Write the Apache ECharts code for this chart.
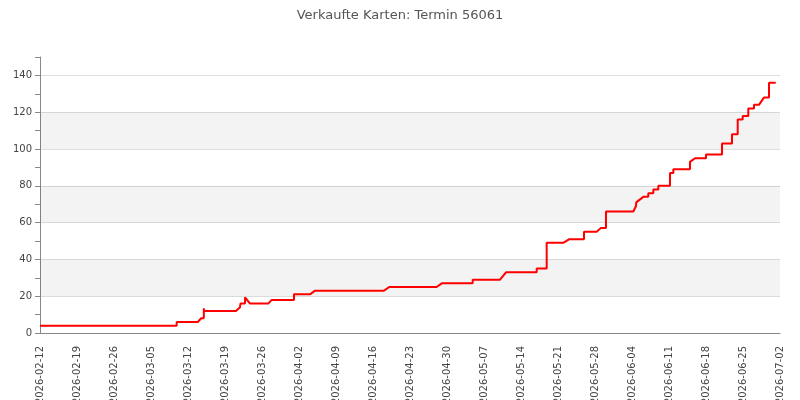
<!DOCTYPE html>
<html>
<head>
<meta charset="utf-8">
<script src="https://cdn.jsdelivr.net/npm/echarts@6/dist/echarts.min.js"></script>
<style>
  html, body { margin: 0; padding: 0; background: #fff; }
  #chart { width: 800px; height: 400px; }
</style>
</head>
<body>
<div id="chart"></div>
<script>
// sales points (time of sale, tickets sold so far)
var saleTimes = [
  '2026-02-12 00:00', '2026-03-09 20:38', '2026-03-09 20:38', '2026-03-13 20:24',
  '2026-03-14 12:00', '2026-03-14 23:45', '2026-03-15 00:00', '2026-03-15 01:12',
  '2026-03-21 01:55', '2026-03-21 20:10', '2026-03-21 22:05', '2026-03-22 18:43',
  '2026-03-22 19:12', '2026-03-23 17:31', '2026-03-27 04:34', '2026-03-27 19:55',
  '2026-04-01 01:12', '2026-04-01 01:12', '2026-04-04 01:55', '2026-04-05 00:43',
  '2026-04-18 01:55', '2026-04-19 01:55', '2026-04-28 01:12', '2026-04-29 00:00',
  '2026-05-04 20:38', '2026-05-04 20:38', '2026-05-10 00:43', '2026-05-11 03:50',
  '2026-05-16 23:17', '2026-05-16 23:17', '2026-05-18 20:38', '2026-05-18 20:38',
  '2026-05-22 00:00', '2026-05-23 03:22', '2026-05-25 22:05', '2026-05-25 22:05',
  '2026-05-28 07:41', '2026-05-29 01:55', '2026-05-30 01:55', '2026-05-30 01:55',
  '2026-06-04 06:00', '2026-06-04 18:14', '2026-06-04 19:12', '2026-06-06 03:22',
  '2026-06-07 01:55', '2026-06-07 01:55', '2026-06-08 00:43', '2026-06-08 00:43',
  '2026-06-08 23:31', '2026-06-08 23:31', '2026-06-11 04:34', '2026-06-11 04:34',
  '2026-06-11 19:41', '2026-06-11 19:41', '2026-06-14 23:17', '2026-06-14 23:17',
  '2026-06-15 22:05', '2026-06-18 00:00', '2026-06-18 00:00', '2026-06-21 00:43',
  '2026-06-21 00:43', '2026-06-22 22:05', '2026-06-22 22:05', '2026-06-24 00:00',
  '2026-06-24 00:00', '2026-06-24 22:34', '2026-06-24 22:34', '2026-06-26 00:00',
  '2026-06-26 00:00', '2026-06-27 01:55', '2026-06-27 01:55', '2026-06-28 00:29',
  '2026-06-28 12:00', '2026-06-28 23:17', '2026-06-29 22:05', '2026-06-29 22:05',
  '2026-07-01 04:34'
];
var soldTotal = [
  4, 4, 6, 6,
  8, 8, 13.4, 12,
  12, 14, 16, 16,
  19.4, 16, 16, 18,
  18, 21, 21, 23,
  23, 25, 25, 27,
  27, 29, 29, 33,
  33, 35, 35, 49,
  49, 51, 51, 55,
  55, 57, 57, 66,
  66, 69, 71, 74,
  74, 76, 76, 78,
  78, 80, 80, 87,
  87, 89, 89, 93,
  95, 95, 97, 97,
  103, 103, 108, 108,
  116, 116, 118, 118,
  122, 122, 124, 124,
  126, 128, 128, 136,
  136
];

var xStart = '2026-02-12';
var xEnd = '2026-07-02';
var DAY = 86400000;

// shaded horizontal bands behind the line
var bands = [[20, 40], [60, 80], [100, 120]];

function toMs(s){
  var p = s.split(/[- :]/).map(Number);
  return Date.UTC(p[0], p[1] - 1, p[2], p[3] || 0, p[4] || 0);
}

function fmtDate(ms){
  return new Date(ms).toISOString().slice(0, 10);
}

var points = saleTimes.map(function(t, i){
  return [toMs(t), soldTotal[i]];
});

var chart = echarts.init(document.getElementById('chart'), null, {renderer: 'canvas'});

chart.setOption({
  animation: false,
  backgroundColor: '#fff',
  title: {
    text: 'Verkaufte Karten: Termin 56061',
    left: 'center',
    top: 4,
    textStyle: {
      fontFamily: 'DejaVu Sans',
      fontSize: 13,
      fontWeight: 'normal',
      color: '#555'
    }
  },
  grid: {
    left: 40,
    right: 20,
    top: 57,
    bottom: 67,
    containLabel: false,
    outerBoundsMode: 'none'
  },
  xAxis: {
    type: 'value',
    min: toMs(xStart),
    max: toMs(xEnd),
    interval: 7 * DAY,
    axisLine: { lineStyle: { color: '#888' } },
    axisTick: { show: false },
    splitLine: { show: false },
    axisLabel: {
      rotate: 90,
      margin: 13,
      fontFamily: 'DejaVu Sans',
      fontSize: 10,
      color: '#444',
      hideOverlap: false,
      formatter: function(v){ return fmtDate(v); }
    }
  },
  yAxis: {
    type: 'value',
    min: 0,
    max: 150,
    interval: 10,
    axisLine: { show: true, lineStyle: { color: '#888' } },
    axisTick: { show: true, length: 5, lineStyle: { color: '#888' } },
    axisLabel: {
      margin: 8,
      fontFamily: 'DejaVu Sans',
      fontSize: 10,
      color: '#444',
      formatter: function(v){ return v % 20 === 0 ? v : ''; }
    },
    splitLine: {
      show: true,
      lineStyle: { color: ['#dedede', 'rgba(0,0,0,0)'], width: 1 }
    }
  },
  series: [{
    type: 'line',
    data: points,
    showSymbol: false,
    lineStyle: { color: '#ff0000', width: 2 },
    itemStyle: { color: '#ff0000' },
    markArea: {
      silent: true,
      itemStyle: { color: 'rgba(0,0,0,0.048)' },
      data: bands.map(function(b){
        return [{ yAxis: b[0] }, { yAxis: b[1] }];
      })
    }
  }]
});
</script>
</body>
</html>
